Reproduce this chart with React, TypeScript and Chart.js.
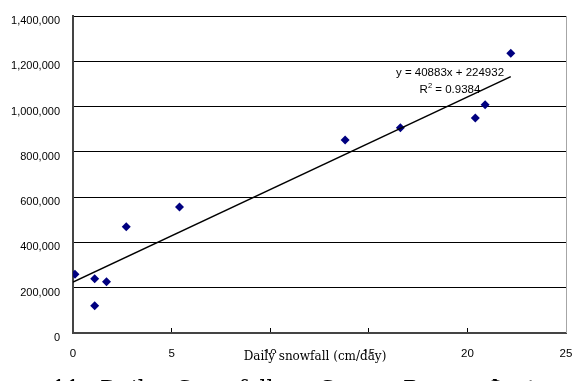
import React, { useEffect, useRef } from "react";
import { Chart, registerables } from "chart.js";
Chart.register(...registerables);

// ---- data ----
const snowfall = [0.1, 1.1, 1.1, 1.7, 2.7, 5.4, 13.8, 16.6, 20.4, 20.9, 22.2];
const removalCost = [260000, 240000, 120000, 226000, 469000, 557000, 852000, 906000, 949000, 1008000, 1235000];
const trendX = [0, 22.2];
const trendY = [224932, 1132535];
const xTickValues = [0, 5, 10, 15, 20, 25];
const yTickValues = [0, 200000, 400000, 600000, 800000, 1000000, 1200000, 1400000];
const equationText = "y = 40883x + 224932";
const r2Text = "0.9384";
const xTitle = "Daily snowfall (cm/day)";
const captionWords = ["11.", "Daily", "Snowfall", "Snow", "Removal", "Cost"];

const SANS = "'Liberation Sans', Arial, sans-serif";
const SERIF = "'DejaVu Serif', serif";

const overlayPlugin = {
  id: "overlay",
  afterDraw(chart: any) {
    const ctx = chart.ctx;
    const ca = chart.chartArea;
    ctx.save();
    // right border
    ctx.strokeStyle = "#a6a6a6";
    ctx.lineWidth = 1;
    ctx.beginPath();
    ctx.moveTo(Math.round(ca.right) + 0.5, ca.top);
    ctx.lineTo(Math.round(ca.right) + 0.5, ca.bottom);
    ctx.stroke();

    // x axis title with white backing
    ctx.font = `12px ${SERIF}`;
    const tw = ctx.measureText(xTitle).width;
    const cx = 315;
    ctx.fillStyle = "#fff";
    ctx.fillRect(cx - tw / 2 - 2, 353, tw + 4, 14);
    ctx.fillStyle = "#000";
    ctx.textAlign = "center";
    ctx.textBaseline = "alphabetic";
    ctx.fillText(xTitle, cx, 360);

    // regression equation
    ctx.font = `11.5px ${SANS}`;
    ctx.textBaseline = "middle";
    ctx.fillText(equationText, 450, 73);
    const rest = " = " + r2Text;
    const wR = ctx.measureText("R").width;
    const wRest = ctx.measureText(rest).width;
    ctx.font = `7.5px ${SANS}`;
    const w2 = ctx.measureText("2").width;
    const total = wR + w2 + wRest;
    let sx = 450 - total / 2;
    ctx.textAlign = "left";
    ctx.font = `11.5px ${SANS}`;
    ctx.fillText("R", sx, 90);
    sx += wR;
    ctx.font = `7.5px ${SANS}`;
    ctx.fillText("2", sx, 86);
    sx += w2;
    ctx.font = `11.5px ${SANS}`;
    ctx.fillText(rest, sx, 90);

    // caption (cut off at the bottom)
    const captionX = [52, 100, 177, 320, 403, 486];
    ctx.font = `22px ${SERIF}`;
    ctx.textBaseline = "alphabetic";
    captionWords.forEach((w, i) => ctx.fillText(w, captionX[i], 396));
    ctx.restore();
  },
};

export default function App() {
  const ref = useRef<HTMLCanvasElement>(null);
  useEffect(() => {
    if (!ref.current) return;
    const chart = new Chart(ref.current, {
      type: "scatter",
      data: {
        datasets: [
          {
            type: "line",
            data: trendX.map((x, i) => ({ x, y: trendY[i] })),
            borderColor: "#000",
            borderWidth: 1.5,
            pointRadius: 0,
            fill: false,
          } as any,
          {
            data: snowfall.map((x, i) => ({ x, y: removalCost[i] })),
            pointStyle: "rectRot",
            pointRadius: 4.5,
            backgroundColor: "#000080",
            borderColor: "#000080",
            borderWidth: 0,
          },
        ],
      },
      options: {
        responsive: false,
        animation: false,
        layout: { padding: { top: 16, right: 7, left: 0, bottom: 0 } },
        plugins: { legend: { display: false }, tooltip: { enabled: false } },
        scales: {
          x: {
            type: "linear",
            min: 0,
            max: 25,
            afterBuildTicks: (s: any) => { s.ticks = xTickValues.map((v) => ({ value: v })); },
            afterFit: (s: any) => { s.height = 48; s.paddingLeft = 0; s.paddingRight = 0; },
            grid: { display: true, drawOnChartArea: false, drawTicks: true, tickLength: -5, color: "#000" },
            border: { display: true, color: "#444", width: 2 },
            ticks: { color: "#000", font: { family: SANS, size: 11.5 }, padding: 19, maxRotation: 0 },
          },
          y: {
            type: "linear",
            min: 0,
            max: 1400000,
            afterBuildTicks: (s: any) => { s.ticks = yTickValues.map((v) => ({ value: v })); },
            afterFit: (s: any) => { s.width = 73; s.paddingTop = 0; s.paddingBottom = 0; },
            grid: { color: "#000", lineWidth: 1, drawTicks: false },
            border: { display: true, color: "#444", width: 2 },
            ticks: {
              color: "#000",
              font: { family: SANS, size: 11, lineHeight: "10px" },
              padding: 13,
              callback: (v: any) => ["", Number(v).toLocaleString("en-US")],
            },
          },
        },
      },
      plugins: [overlayPlugin],
    } as any);
    return () => chart.destroy();
  }, []);
  return (
    <div style={{ position: "fixed", left: 0, top: 0, width: 573, height: 381, background: "#fff" }}>
      <canvas ref={ref} width={573} height={381} style={{ display: "block" }} />
    </div>
  );
}
